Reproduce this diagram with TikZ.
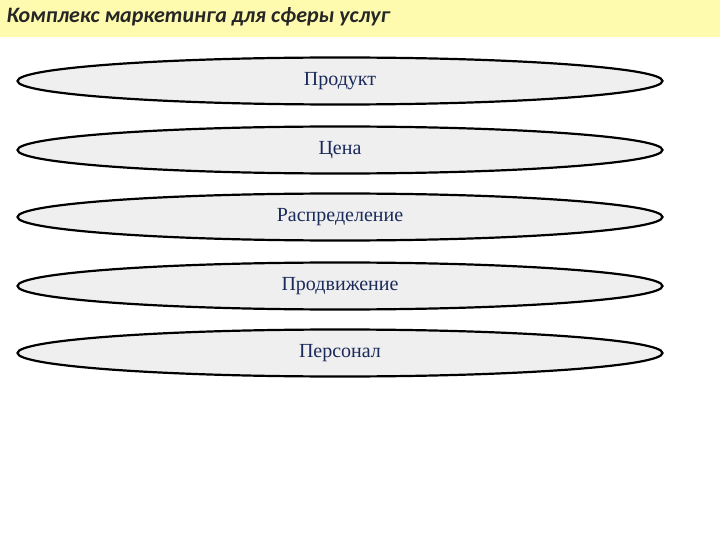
\documentclass[tikz,border=0pt]{standalone}
\usepackage{fontspec}
\usetikzlibrary{shapes.geometric}
\setmainfont{Liberation Serif}
\newfontfamily\titlefont{Carlito}
\definecolor{bar}{HTML}{FFFBAE}
\definecolor{ellfill}{HTML}{EFEFEF}
\definecolor{txt}{HTML}{1A2A5A}
\begin{document}
\begin{tikzpicture}[x=1pt,y=-1pt,
  item/.style={draw=black,line width=2.2pt,fill=ellfill,ellipse,minimum width=645pt,minimum height=47pt,inner sep=0pt,text=txt,font=\fontsize{20}{24}\selectfont}]
\useasboundingbox (0,0) rectangle (720,540);
\fill[white] (0,0) rectangle (720,540);
\fill[bar] (0,0) rectangle (720,37);
\node[anchor=west,font=\titlefont\bfseries\itshape\fontsize{22}{26}\selectfont,text=black!85] (title) at (3,17) {Комплекс маркетинга для сферы услуг};
\node[item] (p1) at (340,81) {Продукт};
\node[item] (p2) at (340,150) {Цена};
\node[item] (p3) at (340,217) {Распределение};
\node[item] (p4) at (340,286) {Продвижение};
\node[item] (p5) at (340,353) {Персонал};
\end{tikzpicture}
\end{document}
